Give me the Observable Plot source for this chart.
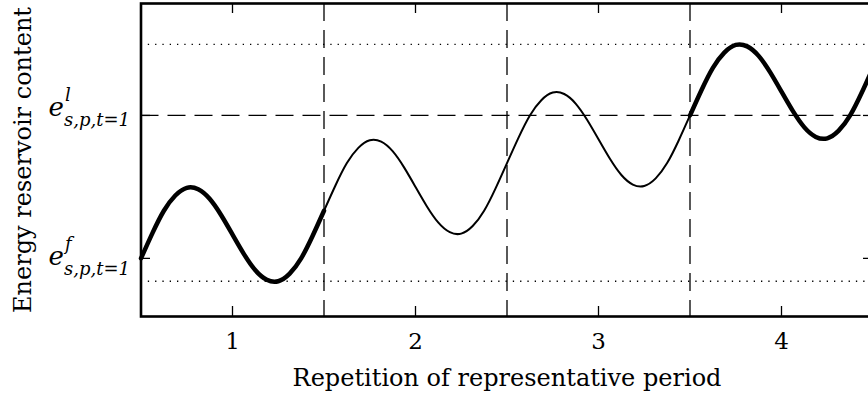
<!DOCTYPE html>
<html>
<head>
<meta charset="utf-8">
<script src="https://cdn.jsdelivr.net/npm/d3@7"></script>
<script src="https://cdn.jsdelivr.net/npm/@observablehq/plot@0.6"></script>
<style>
  html, body { margin: 0; padding: 0; background: #fff; }
  #chart svg { overflow: hidden !important; display: block; }
</style>
</head>
<body>
<div id="chart"></div>
<script>
// ---- data ----
const stepsPerPeriod = 16;
const xStart = 0.5;
const energy = [
  0.00, 0.53, 1.00, 1.32, 1.48, 1.45, 1.25, 0.91, 0.50, 0.09, -0.25, -0.45, -0.48, -0.32, 0.00, 0.47,
  1.00, 1.53, 2.00, 2.32, 2.48, 2.45, 2.25, 1.91, 1.50, 1.09, 0.75, 0.55, 0.52, 0.68, 1.00, 1.47,
  2.00, 2.53, 3.00, 3.32, 3.48, 3.45, 3.25, 2.91, 2.50, 2.09, 1.75, 1.55, 1.52, 1.68, 2.00, 2.47,
  3.00, 3.53, 4.00, 4.32, 4.48, 4.45, 4.25, 3.91, 3.50, 3.09, 2.75, 2.55, 2.52, 2.68, 3.00, 3.47,
  4.00
];
const xTicks = [1, 2, 3, 4];
const periodBoundaries = [1.5, 2.5, 3.5];
const eFirst = 0;      // e^f_{s,p,t=1}
const eLast = 3;       // e^l_{s,p,t=1}
const maxLevel = 4.49;
const minLevel = -0.48;
const xDomain = [0.5, 4.5];
const yDomain = [-1.22, 5.35];
const xLabel = "Repetition of representative period";
const yLabel = "Energy reservoir content";

const pts = energy.map((v, i) => ({x: xStart + i / stepsPerPeriod, y: v}));
const seg1 = pts.filter(d => d.x <= 1.5);
const seg2 = pts.filter(d => d.x >= 1.5 && d.x <= 3.5);
const seg3 = pts.filter(d => d.x >= 3.5);

const serif = "DejaVu Serif, serif";

const mathLabel = (val, sup, eDy, supDy, subDy) => [
  Plot.text([val], {y: d => d, frameAnchor: "left", text: () => "e", textAnchor: "end", lineAnchor: "bottom",
    dx: -77, dy: eDy, fontSize: 26, fontStyle: "italic", fontFamily: serif, fill: "black"}),
  Plot.text([val], {y: d => d, frameAnchor: "left", text: () => sup, textAnchor: "start", lineAnchor: "bottom",
    dx: -76, dy: supDy, fontSize: 18, fontStyle: "italic", fontFamily: serif, fill: "black"}),
  Plot.text([val], {y: d => d, frameAnchor: "left", text: () => "s,p,t=1", textAnchor: "start", lineAnchor: "bottom",
    dx: -77, dy: subDy, fontSize: 18, fontStyle: "italic", fontFamily: serif, fill: "black"})
];

const plot = Plot.plot({
  width: 868,
  height: 397,
  marginLeft: 140.5,
  marginRight: -4.5,
  marginTop: 3,
  marginBottom: 81,
  x: {domain: xDomain, axis: null},
  y: {domain: yDomain, axis: null},
  style: {fontFamily: serif, background: "white", overflow: "hidden"},
  marks: [
    // reference levels
    Plot.ruleY([maxLevel, minLevel], {y: d => d, stroke: "black", strokeWidth: 1.3, strokeDasharray: "1.3,6"}),
    Plot.ruleY([eLast], {y: d => d, stroke: "black", strokeWidth: 1.3, strokeDasharray: "18,9"}),
    Plot.ruleX(periodBoundaries, {x: d => d, stroke: "black", strokeWidth: 1.3, strokeDasharray: "18,9"}),
    // curve
    Plot.line(seg1, {x: "x", y: "y", curve: "natural", stroke: "black", strokeWidth: 4.5}),
    Plot.line(seg2, {x: "x", y: "y", curve: "natural", stroke: "black", strokeWidth: 2}),
    Plot.line(seg3, {x: "x", y: "y", curve: "natural", stroke: "black", strokeWidth: 4.5}),
    // inward ticks
    Plot.tickX(xTicks, {x: d => d, insetTop: 303, stroke: "black", strokeWidth: 1.3}),
    Plot.tickX(xTicks, {x: d => d, insetBottom: 303, stroke: "black", strokeWidth: 1.3}),
    Plot.tickY([eFirst, eLast], {y: d => d, insetRight: 722.5, stroke: "black", strokeWidth: 1.3}),
    Plot.tickY([eFirst, eLast], {y: d => d, insetLeft: 722.5, stroke: "black", strokeWidth: 1.3}),
    Plot.frame({stroke: "black", strokeWidth: 2.6}),
    // tick labels
    Plot.text(xTicks, {x: d => d, frameAnchor: "bottom", text: d => String(d), lineAnchor: "top",
      dy: 16, fontSize: 23, fontFamily: serif, fill: "black"}),
    // axis titles
    Plot.text([xLabel], {frameAnchor: "bottom", text: d => d, lineAnchor: "middle", dy: 62,
      fontSize: 24, fontFamily: serif, fill: "black"}),
    Plot.text([yLabel], {frameAnchor: "left", text: d => d, rotate: -90, lineAnchor: "middle", textAnchor: "middle",
      dx: -118, fontSize: 24, fontFamily: serif, fill: "black"}),
    // math tick labels
    ...mathLabel(eLast, "l", 1, -14, 11),
    ...mathLabel(eFirst, "f", 7, -8, 17)
  ]
});
document.getElementById("chart").appendChild(plot);
</script>
</body>
</html>
